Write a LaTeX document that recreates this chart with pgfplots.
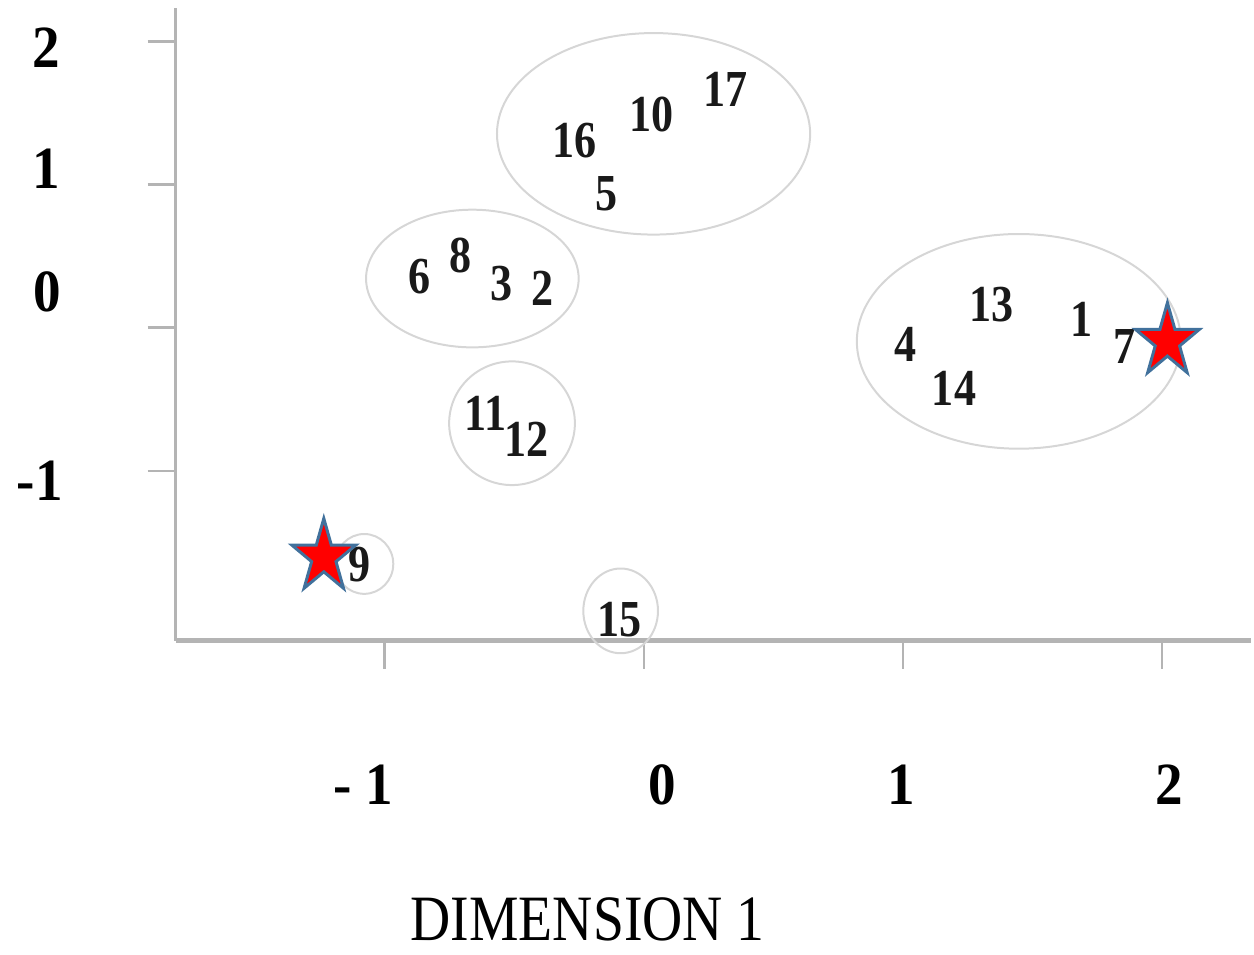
\documentclass[border=0pt]{standalone}
\usepackage{fontspec}
\setmainfont{Liberation Serif}
\newfontfamily\tickfont[FakeStretch=0.92]{Liberation Serif}
\newfontfamily\ptfont[FakeStretch=0.85]{Liberation Serif}
\newfontfamily\titlefont[FakeStretch=0.86]{Liberation Serif}
\usepackage{pgfplots}
\usepackage{pgfplotstable}
\pgfplotsset{compat=1.18}
\definecolor{axgray}{HTML}{B4B4B4}
\definecolor{ellgray}{HTML}{D6D6D6}
\definecolor{starred}{HTML}{FF0000}
\definecolor{staredge}{HTML}{41719C}

\pgfdeclareplotmark{fstar}{%
  \pgfpathmoveto{\pgfqpoint{0pt}{1.15\pgfplotmarksize}}%
  \pgfpathlineto{\pgfqpoint{-0.2245\pgfplotmarksize}{0.3554\pgfplotmarksize}}%
  \pgfpathlineto{\pgfqpoint{-0.9511\pgfplotmarksize}{0.3554\pgfplotmarksize}}%
  \pgfpathlineto{\pgfqpoint{-0.3633\pgfplotmarksize}{-0.1357\pgfplotmarksize}}%
  \pgfpathlineto{\pgfqpoint{-0.5878\pgfplotmarksize}{-0.9304\pgfplotmarksize}}%
  \pgfpathlineto{\pgfqpoint{0pt}{-0.4393\pgfplotmarksize}}%
  \pgfpathlineto{\pgfqpoint{0.5878\pgfplotmarksize}{-0.9304\pgfplotmarksize}}%
  \pgfpathlineto{\pgfqpoint{0.3633\pgfplotmarksize}{-0.1357\pgfplotmarksize}}%
  \pgfpathlineto{\pgfqpoint{0.9511\pgfplotmarksize}{0.3554\pgfplotmarksize}}%
  \pgfpathlineto{\pgfqpoint{0.2245\pgfplotmarksize}{0.3554\pgfplotmarksize}}%
  \pgfpathclose
  \pgfusepathqfillstroke
}

\pgfplotstableread{
x y label
0.315 1.668 17
0.030 1.487 10
-0.266 1.305 16
-0.143 0.936 5
-0.866 0.357 6
-0.705 0.503 8
-0.547 0.308 3
-0.389 0.273 2
1.343 0.162 13
1.689 0.057 1
1.855 -0.131 7
1.008 -0.117 4
1.197 -0.424 14
-0.609 -0.598 11
-0.451 -0.780 12
-1.097 -1.658 9
-0.093 -2.042 15
}\pointtable

\pgfplotstableread{
x y
2.020 -0.096
-1.234 -1.603
}\startable

\begin{document}
\begin{tikzpicture}
\begin{axis}[
  scale only axis, width=269.5pt, height=158.5pt,
  xmin=-1.806, xmax=2.344, ymin=-2.188, ymax=2.233,
  axis x line=bottom, axis y line=left,
  axis line style={-},
  x axis line style={-, draw=axgray, line width=1.3pt},
  y axis line style={-, draw=axgray, line width=0.8pt},
  xtick={-1,0,1,2}, ytick={-1,0,1,2},
  xticklabels={}, yticklabels={},
  tick align=outside, major tick length=7pt,
  tick style={draw=axgray, line width=0.6pt},
  clip=false,
]
% invisible frame giving the picture its proportions
\path (axis cs:-2.483,2.289) rectangle (axis cs:2.344,-4.322);
% cluster ellipses
\draw[ellgray, line width=0.5pt] (axis cs:0.038,1.354) ellipse [x radius=0.604, y radius=0.704];
\draw[ellgray, line width=0.5pt] (axis cs:-0.661,0.343) ellipse [x radius=0.410, y radius=0.481];
\draw[ellgray, line width=0.5pt] (axis cs:-0.508,-0.668) ellipse [x radius=0.2425, y radius=0.432];
\draw[ellgray, line width=0.5pt] (axis cs:-1.078,-1.651) ellipse [x radius=0.112, y radius=0.209];
\draw[ellgray, line width=0.5pt] (axis cs:-0.089,-1.979) ellipse [x radius=0.144, y radius=0.296];
\draw[ellgray, line width=0.5pt] (axis cs:1.447,-0.096) ellipse [x radius=0.625, y radius=0.750];
% point labels
\addplot[draw=none, mark=none, nodes near coords, point meta=explicit symbolic,
  every node near coord/.append style={anchor=center, inner sep=0pt, text=black!90,
  font=\ptfont\bfseries\fontsize{13}{13}\selectfont}]
  table[x=x, y=y, meta=label] {\pointtable};
% stars
\addplot[only marks, mark=fstar, mark size=8.4pt,
  mark options={fill=starred, draw=staredge, line width=0.75pt}]
  table[x=x, y=y] {\startable};
% tick labels
\node[font=\tickfont\bfseries\fontsize{15}{15}\selectfont] at (axis cs:-2.306,1.957) {2};
\node[font=\tickfont\bfseries\fontsize{15}{15}\selectfont] at (axis cs:-2.306,1.110) {1};
\node[font=\tickfont\bfseries\fontsize{15}{15}\selectfont] at (axis cs:-2.302,0.252) {0};
\node[font=\tickfont\bfseries\fontsize{15}{15}\selectfont] at (axis cs:-2.329,-1.073) {-1};
\node[font=\tickfont\bfseries\fontsize{15}{15}\selectfont] at (axis cs:-1.082,-3.192) {- 1};
\node[font=\tickfont\bfseries\fontsize{15}{15}\selectfont] at (axis cs:0.0727,-3.192) {0};
\node[font=\tickfont\bfseries\fontsize{15}{15}\selectfont] at (axis cs:0.992,-3.192) {1};
\node[font=\tickfont\bfseries\fontsize{15}{15}\selectfont] at (axis cs:2.028,-3.192) {2};
% axis title
\node[font=\titlefont\fontsize{16.2}{18}\selectfont] at (axis cs:-0.216,-4.134) {DIMENSION 1};
\end{axis}
\end{tikzpicture}
\end{document}
